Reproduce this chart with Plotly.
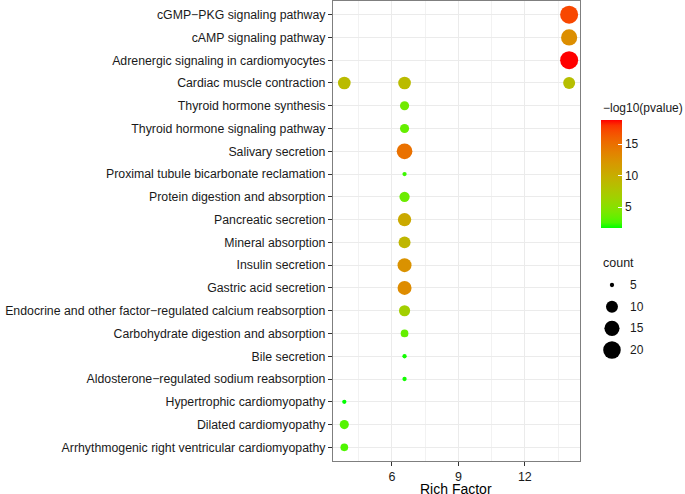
import plotly.graph_objects as go

# pathways, top to bottom as shown on the y axis
pathways = [
    "cGMP−PKG signaling pathway",
    "cAMP signaling pathway",
    "Adrenergic signaling in cardiomyocytes",
    "Cardiac muscle contraction",
    "Thyroid hormone synthesis",
    "Thyroid hormone signaling pathway",
    "Salivary secretion",
    "Proximal tubule bicarbonate reclamation",
    "Protein digestion and absorption",
    "Pancreatic secretion",
    "Mineral absorption",
    "Insulin secretion",
    "Gastric acid secretion",
    "Endocrine and other factor−regulated calcium reabsorption",
    "Carbohydrate digestion and absorption",
    "Bile secretion",
    "Aldosterone−regulated sodium reabsorption",
    "Hypertrophic cardiomyopathy",
    "Dilated cardiomyopathy",
    "Arrhythmogenic right ventricular cardiomyopathy",
]

# one entry per point
point_pathway = [
    "cGMP−PKG signaling pathway",
    "cAMP signaling pathway",
    "Adrenergic signaling in cardiomyocytes",
    "Cardiac muscle contraction",
    "Cardiac muscle contraction",
    "Cardiac muscle contraction",
    "Thyroid hormone synthesis",
    "Thyroid hormone signaling pathway",
    "Salivary secretion",
    "Proximal tubule bicarbonate reclamation",
    "Protein digestion and absorption",
    "Pancreatic secretion",
    "Mineral absorption",
    "Insulin secretion",
    "Gastric acid secretion",
    "Endocrine and other factor−regulated calcium reabsorption",
    "Carbohydrate digestion and absorption",
    "Bile secretion",
    "Aldosterone−regulated sodium reabsorption",
    "Hypertrophic cardiomyopathy",
    "Dilated cardiomyopathy",
    "Arrhythmogenic right ventricular cardiomyopathy",
]
rich_factor = [14.0, 14.0, 14.0, 3.85, 6.57, 14.0, 6.57, 6.57, 6.57, 6.57, 6.57,
               6.57, 6.57, 6.57, 6.57, 6.57, 6.57, 6.57, 6.57, 3.85, 3.85, 3.85]
gene_count = [21, 17, 21, 11, 11, 10, 7, 7, 16, 5, 8,
              12, 10, 13, 13, 9, 6, 5, 5, 5, 7, 6]
neg_log_p = [17.3, 12.8, 18.9, 8.8, 8.8, 8.5, 4.0, 3.5, 15.0, 2.5, 3.8,
             10.5, 9.3, 12.5, 13.0, 6.8, 3.5, 2.0, 2.0, 1.8, 3.0, 2.8]

legend_counts = [5, 10, 15, 20]

FONT = "Liberation Sans, Arial, sans-serif"

# green -> red gradient interpolated in Lab, like scale_color_gradient
WHITE = (0.95047, 1.0, 1.08883)


def to_lin(c):
    c = c / 255
    return c / 12.92 if c <= 0.04045 else ((c + 0.055) / 1.055) ** 2.4


def from_lin(c):
    c = max(0.0, c)
    c = 12.92 * c if c <= 0.0031308 else 1.055 * c ** (1 / 2.4) - 0.055
    return min(255, max(0, round(c * 255)))


def rgb_to_lab(rgb):
    r, g, b = [to_lin(v) for v in rgb]
    x = 0.4124 * r + 0.3576 * g + 0.1805 * b
    y = 0.2126 * r + 0.7152 * g + 0.0722 * b
    z = 0.0193 * r + 0.1192 * g + 0.9505 * b

    def f(t):
        return t ** (1 / 3) if t > 0.008856 else 7.787 * t + 16 / 116
    fx, fy, fz = f(x / WHITE[0]), f(y / WHITE[1]), f(z / WHITE[2])
    return 116 * fy - 16, 500 * (fx - fy), 200 * (fy - fz)


def lab_to_hex(lab):
    L, a, b = lab
    fy = (L + 16) / 116
    fx = fy + a / 500
    fz = fy - b / 200

    def finv(t):
        return t ** 3 if t ** 3 > 0.008856 else (t - 16 / 116) / 7.787
    x, y, z = finv(fx) * WHITE[0], finv(fy) * WHITE[1], finv(fz) * WHITE[2]
    r = 3.2406 * x - 1.5372 * y - 0.4986 * z
    g = -0.9689 * x + 1.8758 * y + 0.0415 * z
    bl = 0.0557 * x - 0.2040 * y + 1.0570 * z
    return "#%02x%02x%02x" % tuple(from_lin(c) for c in (r, g, bl))


low = rgb_to_lab((0, 255, 0))
high = rgb_to_lab((255, 0, 0))
colorscale = []
for i in range(21):
    t = i / 20
    colorscale.append([t, lab_to_hex([lo + (hi - lo) * t for lo, hi in zip(low, high)])])

# point size by area, like scale_size
cmin, cmax = min(gene_count), max(gene_count)


def dot_size(c):
    return 4.3 + 13.7 * ((c - cmin) / (cmax - cmin)) ** 0.5


fig = go.Figure()

fig.add_trace(go.Scatter(
    x=rich_factor, y=point_pathway, mode="markers",
    marker=dict(
        size=[dot_size(c) for c in gene_count],
        color=neg_log_p, colorscale=colorscale,
        cmin=min(neg_log_p), cmax=max(neg_log_p),
        line=dict(width=0), opacity=1,
        colorbar=dict(
            x=0.7614, xanchor="left", xpad=0,
            y=0.625, yanchor="middle", ypad=0,
            lenmode="pixels", len=108, thickness=21,
            outlinewidth=0,
            tickvals=[5, 10, 15], ticks="inside", ticklen=4,
            tickcolor="white", tickwidth=1,
            tickfont=dict(family=FONT, size=12, color="#1a1a1a"),
        ),
    ),
    showlegend=False, hoverinfo="x+y",
))

# size legend drawn on its own small axis in the right margin
fig.add_trace(go.Scatter(
    x=[22] * len(legend_counts), y=list(range(len(legend_counts))),
    mode="markers", xaxis="x2", yaxis="y2",
    marker=dict(size=[dot_size(c) for c in legend_counts], color="#000000",
                opacity=1, line=dict(width=0)),
    showlegend=False, hoverinfo="skip",
))

annotations = [
    dict(text="Rich Factor", xref="paper", yref="paper", x=0.7017 / 2, y=-0.061,
         xanchor="center", yanchor="middle", showarrow=False,
         font=dict(family=FONT, size=14, color="#000000")),
    dict(text="−log10(pvalue)", xref="paper", yref="paper", x=0.7614, y=0.7674,
         xanchor="left", yanchor="middle", showarrow=False,
         font=dict(family=FONT, size=12, color="#1a1a1a")),
    dict(text="count", xref="paper", yref="paper", x=0.7614, y=0.431,
         xanchor="left", yanchor="middle", showarrow=False,
         font=dict(family=FONT, size=12.5, color="#1a1a1a")),
]
for i, c in enumerate(legend_counts):
    annotations.append(dict(text=str(c), xref="x2", yref="y2", x=38, y=i,
                            xanchor="left", yanchor="middle", showarrow=False,
                            font=dict(family=FONT, size=12, color="#1a1a1a")))

fig.update_layout(
    width=685, height=494,
    margin=dict(l=333, r=0, t=1, b=33),
    paper_bgcolor="white", plot_bgcolor="white",
    font=dict(family=FONT, size=12, color="#1a1a1a"),
    annotations=annotations,
    xaxis=dict(
        domain=[0, 0.7017],
        range=[3.34, 14.49],
        tickvals=[6, 9, 12],
        ticks="outside", ticklen=4, tickcolor="#333333",
        tickfont=dict(family=FONT, size=12.5, color="#1a1a1a"),
        showgrid=True, gridcolor="#ebebeb", gridwidth=1.2,
        minor=dict(tickvals=[4.5, 7.5, 10.5, 13.5], showgrid=True,
                   gridcolor="#f2f2f2", gridwidth=0.7),
        showline=True, mirror=True, linecolor="#7f7f7f", linewidth=1.2,
        zeroline=False, automargin=False,
    ),
    yaxis=dict(
        type="category", categoryorder="array", categoryarray=pathways,
        range=[len(pathways) - 1 + 0.6, -0.6],
        ticks="outside", ticklen=4, tickcolor="#333333",
        tickfont=dict(family=FONT, size=12.3, color="#1a1a1a"),
        showgrid=True, gridcolor="#ebebeb", gridwidth=1.2,
        showline=True, mirror=True, linecolor="#7f7f7f", linewidth=1.2,
        zeroline=False, automargin=False,
    ),
    xaxis2=dict(domain=[0.730, 1.0], range=[0, 95], visible=False, fixedrange=True),
    yaxis2=dict(domain=[0.2178, 0.4061], range=[3.5, -0.5], visible=False, fixedrange=True),
)

fig.write_html("out.html", config={"displayModeBar": False},
               post_script="document.body.style.margin='0';")
